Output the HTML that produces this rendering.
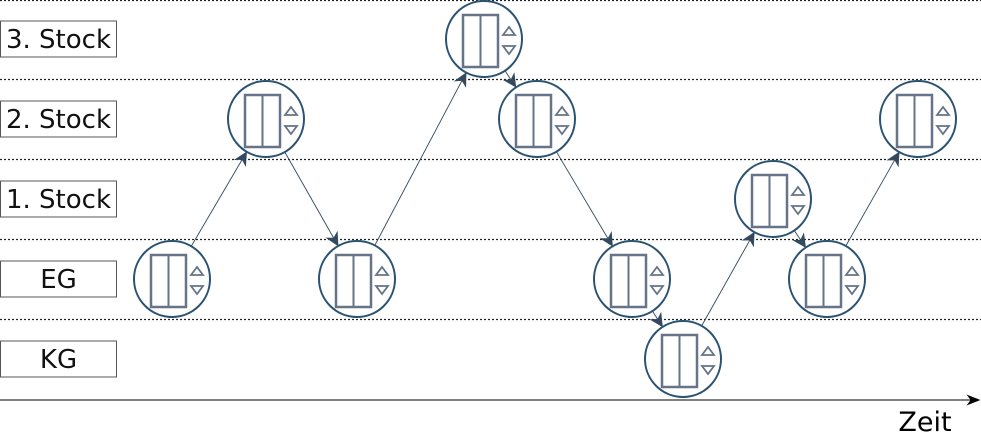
<!DOCTYPE html>
<html><head><meta charset="utf-8"><style>
body{margin:0;background:#fff;width:981px;height:432px;overflow:hidden}
svg{display:block;font-family:"DejaVu Sans","Liberation Sans",sans-serif}
</style></head><body>
<svg id="chart" width="981" height="432" viewBox="0 0 981 432">
<defs>
<marker id="ah" viewBox="0 0 10 10" refX="9" refY="5" markerWidth="14" markerHeight="14" markerUnits="userSpaceOnUse" orient="auto"><path d="M0,0 L10,5 L0,10 L3,5 z" fill="#34495e"/></marker>
<marker id="ax" viewBox="0 0 10 10" refX="9" refY="5" markerWidth="14" markerHeight="14" markerUnits="userSpaceOnUse" orient="auto"><path d="M0,1 L10,5 L0,9 L3,5 z" fill="#000"/></marker>
</defs>
<g id="grid"></g>
<g id="labels"></g>
<g id="arrows"></g>
<g id="stops"></g>
<line x1="0" y1="400" x2="979" y2="400" stroke="#000" stroke-width="1" marker-end="url(#ax)"/>
<text x="925" y="431" font-size="27" text-anchor="middle" fill="#000">Zeit</text>
</svg>
<script>
const floors = ["KG","EG","1. Stock","2. Stock","3. Stock"];
const stopTimes = [172,266,357,484,537,632,683,773,827,918];
const stopFloors = [1,3,1,4,3,1,0,2,1,3];
const floorY = i => 359 - i*80;
const ns = "http://www.w3.org/2000/svg";
function mk(tag, attrs, parent){const e=document.createElementNS(ns,tag);for(const k in attrs)e.setAttribute(k,attrs[k]);parent.appendChild(e);return e;}
const grid=document.getElementById('grid'),labels=document.getElementById('labels'),arrows=document.getElementById('arrows'),stops=document.getElementById('stops');
for(let i=1;i<=floors.length;i++){
  const y = i===floors.length?0.5:floorY(i)+40.5;
  const l=mk('line',{x1:0,x2:981,y1:y,y2:y,stroke:'#222','stroke-width':1.3,'stroke-dasharray':'2,2'},grid);
  
  
}
floors.forEach((f,i)=>{
  const cy=floorY(i);
  const g=mk('g',{},labels);
  
  
  mk('rect',{x:0.5,y:cy-18,width:116,height:36,fill:'#fff',stroke:'#555','stroke-width':1},g);
  const t=mk('text',{x:58.5,y:cy+9,'font-size':26,'text-anchor':'middle',fill:'#111'},g);
  t.textContent=f;
});
const R=38;
for(let i=0;i<stopTimes.length-1;i++){
  const x1=stopTimes[i],y1=floorY(stopFloors[i]),x2=stopTimes[i+1],y2=floorY(stopFloors[i+1]);
  const d=Math.hypot(x2-x1,y2-y1),ux=(x2-x1)/d,uy=(y2-y1)/d;
  const a=mk('line',{x1:x1+ux*R,y1:y1+uy*R,x2:x2-ux*(R+1),y2:y2-uy*(R+1),stroke:'#34495e','stroke-width':0.9,'marker-end':'url(#ah)'},arrows);
  
  
}
stopTimes.forEach((x,i)=>{
  const y=floorY(stopFloors[i]);
  const g=mk('g',{},stops);
  
  
  mk('circle',{cx:x,cy:y,r:R,fill:'#fff',stroke:'#2c5272','stroke-width':2},g);
  mk('rect',{x:x-21,y:y-24,width:35,height:52,fill:'none',stroke:'#667388','stroke-width':2.5},g);
  mk('line',{x1:x-3.5,x2:x-3.5,y1:y-24,y2:y+28,stroke:'#667388','stroke-width':2},g);
  mk('path',{d:`M${x+19},${y-4} L${x+25},${y-12} L${x+31},${y-4} Z`,fill:'none',stroke:'#667388','stroke-width':1.8},g);
  mk('path',{d:`M${x+19},${y+7} L${x+25},${y+15} L${x+31},${y+7} Z`,fill:'none',stroke:'#667388','stroke-width':1.8},g);
});
</script>
</body></html>
